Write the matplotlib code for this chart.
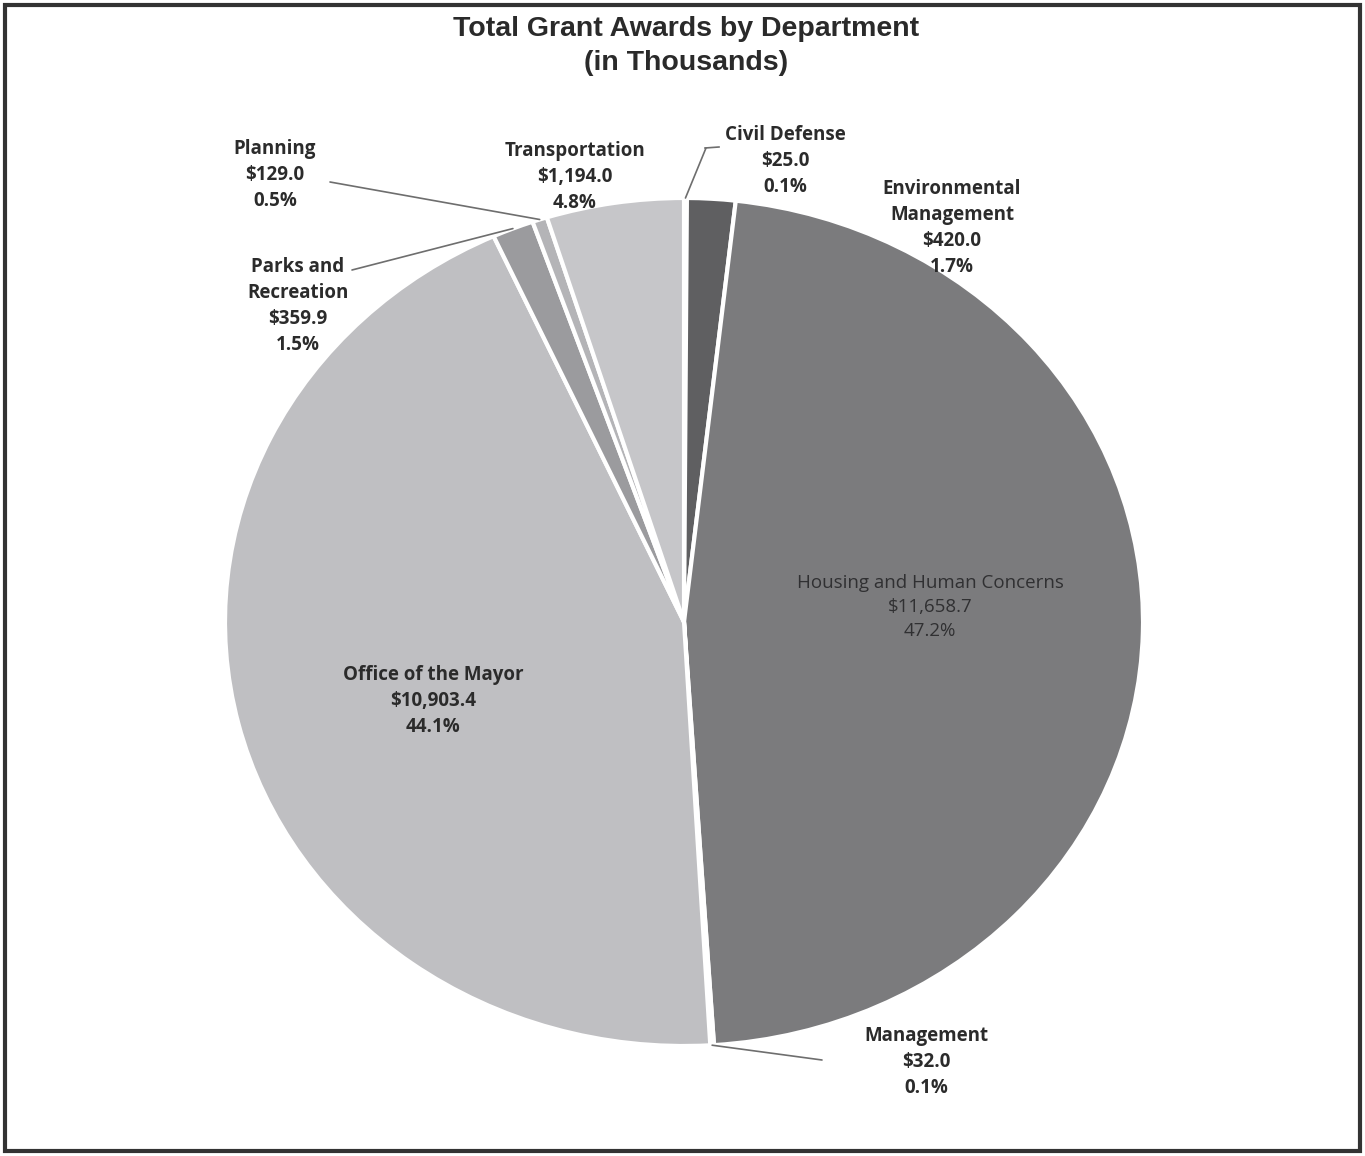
import matplotlib
matplotlib.use("Agg")
import matplotlib.pyplot as plt
from matplotlib.patches import Rectangle
from matplotlib.lines import Line2D
import numpy as np

departments = ["Civil Defense", "Environmental\nManagement", "Housing and Human Concerns",
               "Management", "Office of the Mayor", "Parks and\nRecreation", "Planning",
               "Transportation"]
amounts = [25.0, 420.0, 11658.7, 32.0, 10903.4, 359.9, 129.0, 1194.0]
colors = ["#d4d4d6", "#5f5f61", "#7b7b7d", "#d4d4d6", "#bfbfc2", "#9b9b9e", "#b4b4b7", "#c6c6c9"]

# label centres in figure pixels (from top-left) and whether a leader line is drawn
label_pos = [(785, 161), (952, 228), (930, 607), (926, 1062), (433, 701), (298, 306), (275, 175), (575, 177)]
leader = [True, False, False, True, False, True, True, False]
leader_end = [(706, 148), None, None, (822, 1060), None, (352, 270), (330, 182), None]

W, H = 1365, 1156
fig = plt.figure(figsize=(W / 100, H / 100), dpi=100)
fig.patch.set_facecolor("white")

cx, cy, rx, ry = 684, 622, 459, 424
ax = fig.add_axes([(cx - rx) / W, (H - cy - ry) / H, 2 * rx / W, 2 * ry / H])
wedges, _ = ax.pie(amounts, colors=colors, startangle=90, counterclock=False,
                   wedgeprops=dict(edgecolor="white", linewidth=3))
ax.set_aspect("auto")
ax.set_xlim(-1, 1)
ax.set_ylim(-1, 1)
ax.axis("off")

total = sum(amounts)
fam = ["Open Sans", "DejaVu Sans"]


def fig_frac(px, py):
    return px / W, 1 - py / H


for i, (name, v) in enumerate(zip(departments, amounts)):
    txt = f"{name}\n${v:,.1f}\n{v / total * 100:.1f}%"
    tx, ty = fig_frac(*label_pos[i])
    if i == 2:
        color, weight = "#303032", "normal"
    else:
        color, weight = "#2b2b2b", "bold"
    fig.text(tx, ty, txt, ha="center", va="center", fontsize=13.5, color=color,
             fontweight=weight, family=fam, linespacing=1.4)
    if leader[i]:
        w = wedges[i]
        mid = np.deg2rad((w.theta1 + w.theta2) / 2)
        ex, ey = fig_frac(*leader_end[i])
        tip = (np.cos(mid), np.sin(mid))
        ax.annotate("", xy=tip, xycoords="data", xytext=(ex, ey), textcoords="figure fraction",
                    arrowprops=dict(arrowstyle="-", color="#6e6e6e", lw=1.2,
                                    shrinkA=0, shrinkB=0), annotation_clip=False)

# short horizontal hook of the Civil Defense leader
hx0, hy0 = fig_frac(705, 148)
hx1, hy1 = fig_frac(719, 147)
fig.lines.append(Line2D([hx0, hx1], [hy0, hy1], transform=fig.transFigure, color="#6e6e6e", lw=1.2))

fig.text(686 / W, 1 - 46 / H, "Total Grant Awards by Department\n(in Thousands)",
         ha="center", va="center", fontsize=20.5, fontweight="bold", color="#2a2a2a",
         family=["Liberation Sans", "DejaVu Sans"], linespacing=1.38)

fig.patches.append(Rectangle((5 / W, 5 / H), (W - 10) / W, (H - 10) / H, transform=fig.transFigure,
                             fill=False, edgecolor="#333333", linewidth=3))

fig.savefig("out.png", dpi=100, facecolor="white")
